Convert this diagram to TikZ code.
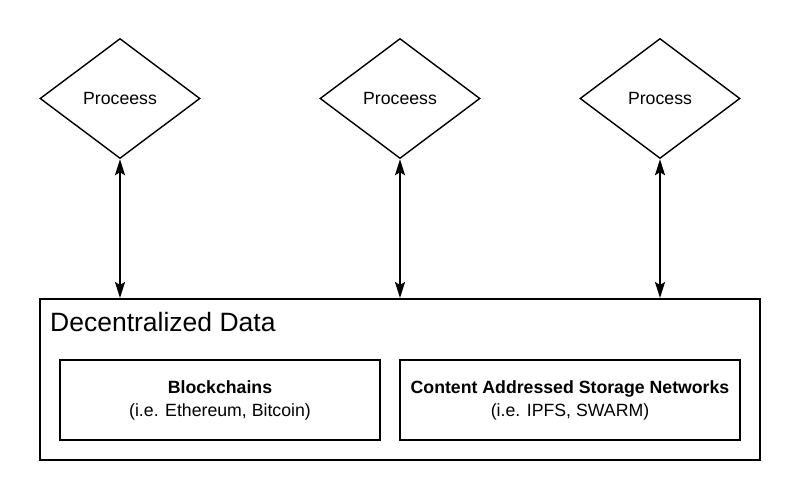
\documentclass[tikz,border=0pt]{standalone}
\usepackage{fontspec}
\setmainfont{Liberation Sans}
\usetikzlibrary{shapes.geometric}
\usetikzlibrary{arrows.meta}

\tikzset{
  procbox/.style={draw, diamond, line width=1.4pt, minimum width=160pt, minimum height=120pt, inner sep=0pt, font=\fontsize{17.7}{21}\selectfont},
  storebox/.style={draw, rectangle, line width=2pt, minimum height=80pt, inner sep=0pt, align=center, font=\fontsize{17.7}{23}\selectfont},
}

\begin{document}
\begin{tikzpicture} [x=1pt, y=-1pt]
\useasboundingbox (0,0) rectangle (800,500);
\node[draw, line width=2pt, minimum width=720pt, minimum height=161pt, inner sep=0pt] (data) at (400,379.5) {};
\node[anchor=base west, inner sep=0pt, font=\fontsize{26.5}{31}\selectfont] (title) at (50,331) {Decentralized Data};
\node[storebox, minimum width=320pt] (chain) at (220,400) {\textbf{Blockchains}\\(i.e. Ethereum, Bitcoin)};
\node[storebox, minimum width=340pt] (cas) at (570,400) {\textbf{Content Addressed Storage Networks}\\(i.e. IPFS, SWARM)};
\foreach \i/\x/\t in {1/120/Proceess, 2/400/Proceess, 3/660/Process} {
 \node[procbox] (p\i) at (\x,98.5) {\t};
 \draw[line width=2pt, <->, >={Stealth[length=16pt, width=10pt, inset=3pt]}] (p\i.south) -- (p\i.south |- data.north);
}
\end{tikzpicture}
\end{document}
